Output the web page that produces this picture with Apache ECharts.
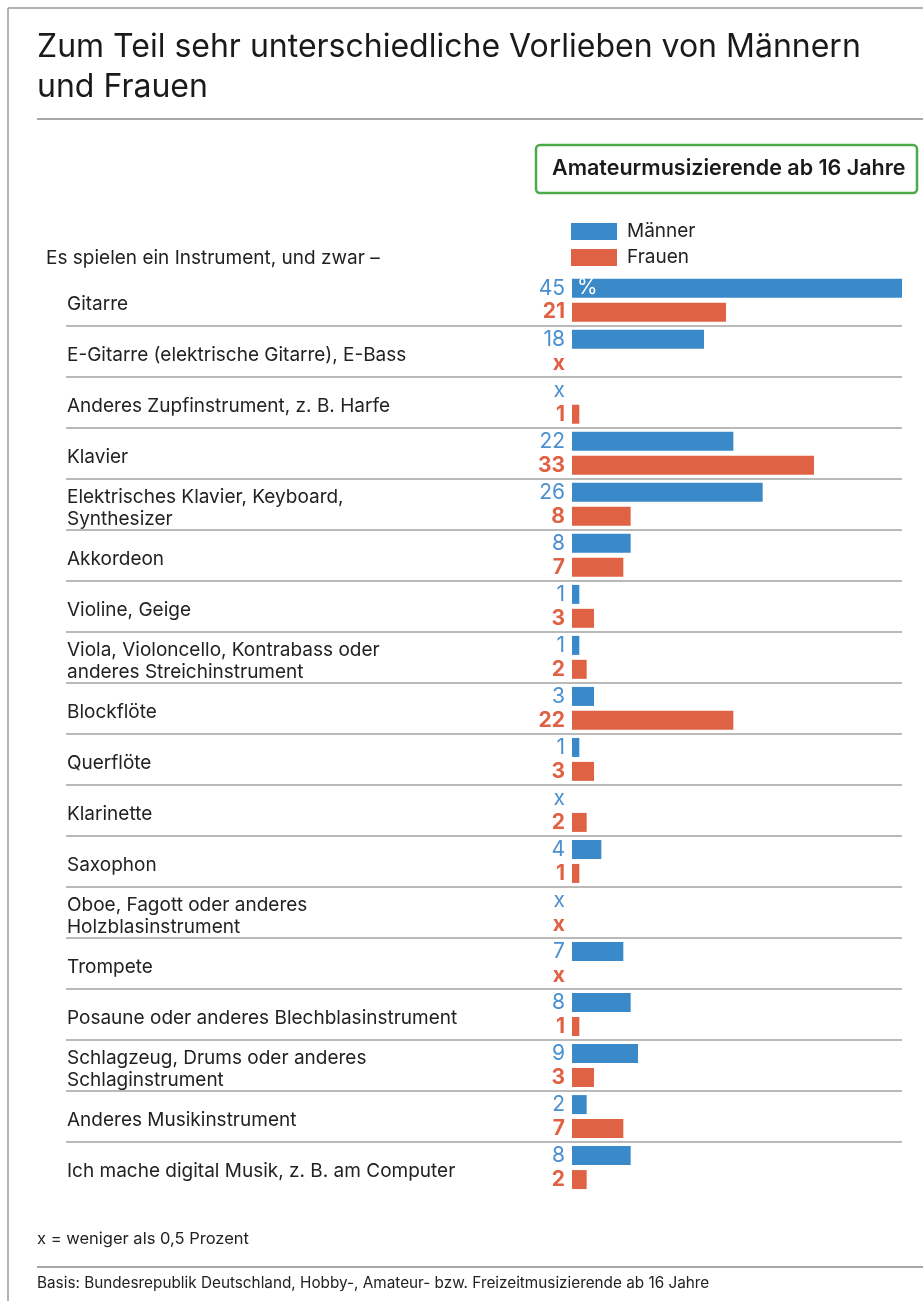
<!DOCTYPE html>
<html>
<head>
<meta charset="utf-8">
<script src="https://cdn.jsdelivr.net/npm/echarts@6/dist/echarts.min.js"></script>
<style>
  html, body { margin: 0; padding: 0; background: #fff; }
  #chart { width: 923px; height: 1301px; }
</style>
</head>
<body>
<div id="chart"></div>
<script>
// Kategorien (Instrumente)
var instrumente = [
	'Gitarre',
	'E-Gitarre (elektrische Gitarre), E-Bass',
	'Anderes Zupfinstrument, z. B. Harfe',
	'Klavier',
	'Elektrisches Klavier, Keyboard,\nSynthesizer',
	'Akkordeon',
	'Violine, Geige',
	'Viola, Violoncello, Kontrabass oder\nanderes Streichinstrument',
	'Blockflöte',
	'Querflöte',
	'Klarinette',
	'Saxophon',
	'Oboe, Fagott oder anderes\nHolzblasinstrument',
	'Trompete',
	'Posaune oder anderes Blechblasinstrument',
	'Schlagzeug, Drums oder anderes\nSchlaginstrument',
	'Anderes Musikinstrument',
	'Ich mache digital Musik, z. B. am Computer'
];
// Werte in Prozent, null = x (weniger als 0,5 Prozent)
var maenner = [45, 18, null, 22, 26, 8, 1, 1, 3, 1, null, 4, null, 7, 8, 9, 2, 8];
var frauen = [21, null, 1, 33, 8, 7, 3, 2, 22, 3, 2, 1, null, null, 1, 3, 7, 2];

var FONT = 'Inter, "Liberation Sans", sans-serif';
var BLAU = '#3a89c8';
var ROT = '#e06245';

function toData(arr) {
	return arr.map(function (v) {
		if (v === null) {
			return { value: 0, label: { formatter: 'x' } };
		}
		return v;
	});
}

var chart = echarts.init(document.getElementById('chart'));
var option = {
	animation: false,
	title: {
		text: 'Zum Teil sehr unterschiedliche Vorlieben von Männern\nund Frauen',
		left: 37,
		top: 27,
		padding: 0,
		textStyle: {
			fontFamily: FONT,
			fontSize: 32,
			fontWeight: 'normal',
			lineHeight: 40,
			color: '#1a1a1a'
		}
	},
	legend: {
		data: ['Männer', 'Frauen'],
		orient: 'vertical',
		left: 571,
		top: 222,
		padding: 0,
		itemWidth: 46,
		itemHeight: 17,
		itemGap: 7,
		icon: 'rect',
		textStyle: {
			fontFamily: FONT,
			fontSize: 19,
			color: '#222',
			lineHeight: 17,
			padding: [2, 0, 0, 5]
		}
	},
	grid: {
		left: 66,
		right: 21,
		top: 274.7,
		height: 918.4
	},
	xAxis: {
		type: 'value',
		min: -69,
		max: 45,
		show: false
	},
	yAxis: {
		type: 'category',
		inverse: true,
		data: instrumente,
		axisLine: { show: false },
		axisTick: { show: false },
		axisLabel: {
			inside: true,
			interval: 0,
			margin: 1,
			fontFamily: FONT,
			fontSize: 19,
			lineHeight: 22,
			color: '#222',
			// kleine Leerzeile oben, damit der Text etwas tiefer sitzt
			formatter: function (v) {
				return '{s| }\n' + v;
			},
			rich: {
				s: { fontSize: 1, lineHeight: 8 }
			}
		},
		splitLine: {
			show: true,
			interval: 0,
			showMinLine: false,
			showMaxLine: false,
			lineStyle: { color: '#a3a3a3', width: 1.5 }
		}
	},
	series: [{
		name: 'Männer',
		type: 'bar',
		barWidth: 19,
		barGap: '26%',
		itemStyle: { color: BLAU },
		label: {
			show: true,
			position: 'left',
			distance: 7,
			fontFamily: FONT,
			fontSize: 21,
			color: '#4a90d0'
		},
		data: toData(maenner)
	}, {
		name: 'Frauen',
		type: 'bar',
		barWidth: 19,
		itemStyle: { color: ROT },
		label: {
			show: true,
			position: 'left',
			distance: 7,
			fontFamily: FONT,
			fontSize: 21,
			fontWeight: 'bold',
			color: ROT
		},
		data: toData(frauen)
	}]
};
chart.setOption(option);

// Prozentzeichen im ersten Balken
var x0 = chart.convertToPixel({ xAxisIndex: 0 }, 0);
var yG = chart.convertToPixel({ yAxisIndex: 0 }, instrumente[0]);

chart.setOption({
	graphic: [
		// Rahmen
		{ type: 'line', shape: { x1: 8, y1: 8, x2: 923, y2: 8 }, style: { stroke: '#9a9a9a', lineWidth: 1.5 } },
		{ type: 'line', shape: { x1: 8, y1: 8, x2: 8, y2: 1301 }, style: { stroke: '#9a9a9a', lineWidth: 1.5 } },
		// Trennlinien
		{ type: 'line', shape: { x1: 37, y1: 119, x2: 923, y2: 119 }, style: { stroke: '#8a8a8a', lineWidth: 1.5 } },
		{ type: 'line', shape: { x1: 37, y1: 1267, x2: 923, y2: 1267 }, style: { stroke: '#8a8a8a', lineWidth: 1.5 } },
		// Kasten
		{
			type: 'rect',
			shape: { x: 536, y: 145, width: 381, height: 48, r: 4 },
			style: { fill: '#fff', stroke: '#4caa48', lineWidth: 2.5 }
		},
		{
			type: 'text',
			left: 552, top: 158,
			style: { text: 'Amateurmusizierende ab 16 Jahre', font: '600 21.5px ' + FONT, fill: '#1a1a1a' }
		},
		{
			type: 'text',
			left: 46, top: 249,
			style: { text: 'Es spielen ein Instrument, und zwar –', font: '19px ' + FONT, fill: '#222' }
		},
		{
			type: 'text',
			x: x0 + 5, y: yG - 13,
			z: 100,
			style: { text: '%', font: '21px ' + FONT, fill: '#fff', verticalAlign: 'middle' }
		},
		{
			type: 'text',
			left: 37, top: 1231,
			style: { text: 'x = weniger als 0,5 Prozent', font: '16.5px ' + FONT, fill: '#222' }
		},
		{
			type: 'text',
			left: 37, top: 1276,
			style: { text: 'Basis: Bundesrepublik Deutschland, Hobby-, Amateur- bzw. Freizeitmusizierende ab 16 Jahre', font: '15.3px ' + FONT, fill: '#222' }
		}
	]
});
</script>
</body>
</html>
